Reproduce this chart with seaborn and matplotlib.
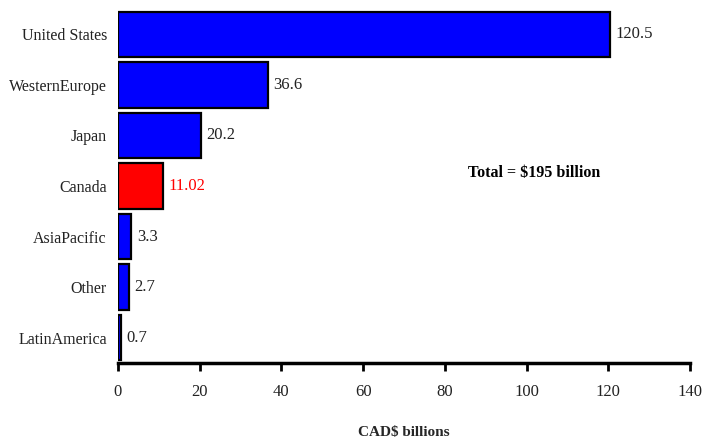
import matplotlib
matplotlib.use("Agg")
import matplotlib.pyplot as plt
import seaborn as sns
import pandas as pd

regions = ["United States", "WesternEurope", "Japan", "Canada", "AsiaPacific", "Other", "LatinAmerica"]
values = [120.5, 36.6, 20.2, 11.02, 3.3, 2.7, 0.7]
value_labels = ["120.5", "36.6", "20.2", "11.02", "3.3", "2.7", "0.7"]
highlight = "Canada"
x_ticks = [0, 20, 40, 60, 80, 100, 120, 140]

sns.set_theme(style="white")
plt.rcParams["font.family"] = ["Liberation Serif", "DejaVu Serif"]

df = pd.DataFrame({"region": regions, "value": values})
df["group"] = ["hl" if r == highlight else "base" for r in regions]
palette = {"base": "#0000ff", "hl": "#ff0000"}

fig = plt.figure(figsize=(7.13, 4.40), dpi=100)
ax = fig.add_axes([118/713, 77/440, 572/713, (363-9)/440])

sns.barplot(data=df, y="region", x="value", hue="group", palette=palette,
            orient="h", width=0.9, edgecolor="black", linewidth=1.6,
            dodge=False, legend=False, ax=ax, saturation=1)

for i, (v, lab, r) in enumerate(zip(values, value_labels, regions)):
    col = "#ff0000" if r == highlight else "#222222"
    ax.annotate(lab, xy=(v, i), xytext=(4, 0), textcoords="offset points",
                ha="left", va="center", fontsize=12, color=col)

ax.text(85.6, 2.75, "Total = $195 billion", fontsize=11.5, fontweight="bold",
        ha="left", va="center", color="black")

ax.set_xlim(0, 140)
ax.set_ylim(6.5, -0.5)
ax.set_xticks(x_ticks)
ax.set_xticklabels([str(t) for t in x_ticks], fontsize=12, color="#222222")
ax.tick_params(axis="x", direction="out", length=6, width=2, color="black", pad=9, bottom=True)
ax.tick_params(axis="y", length=0, labelsize=11.5, labelcolor="#222222", pad=8)
ax.set_ylabel("")
ax.set_xlabel("CAD$ billions", fontsize=11, fontweight="bold", labelpad=19)

for s in ["top", "right", "left"]:
    ax.spines[s].set_visible(False)
ax.spines["bottom"].set_linewidth(2.5)
ax.spines["bottom"].set_color("black")

fig.savefig("out.png", dpi=100)
